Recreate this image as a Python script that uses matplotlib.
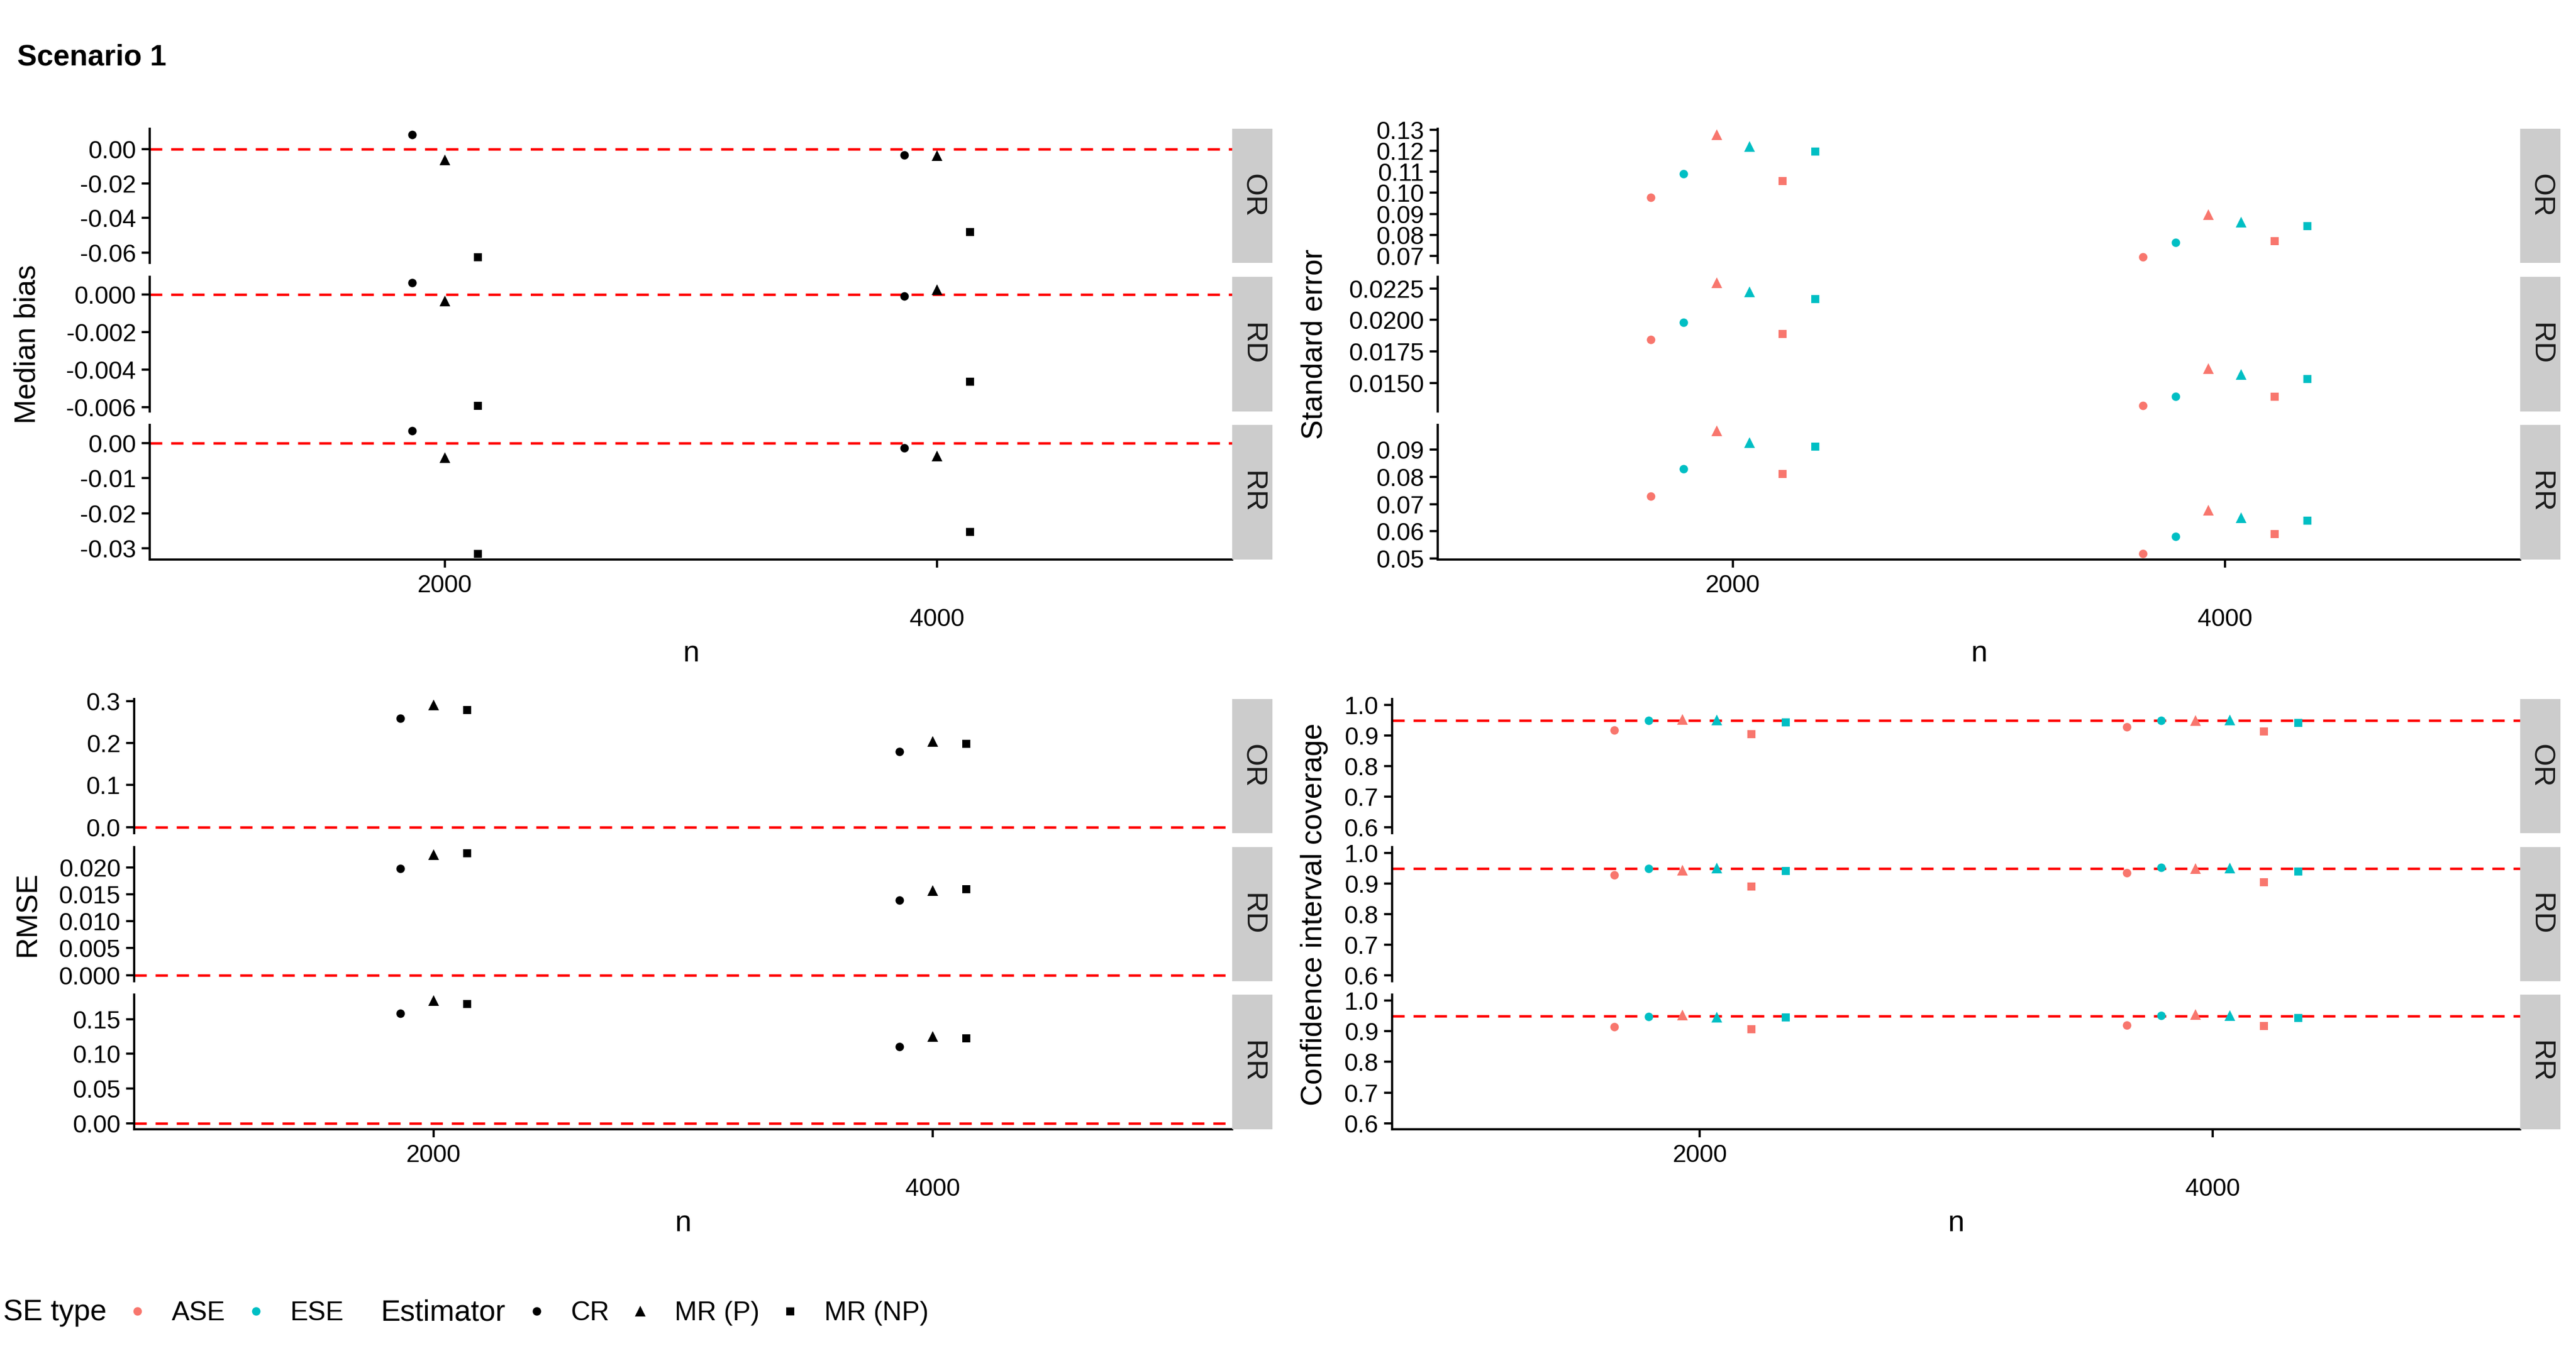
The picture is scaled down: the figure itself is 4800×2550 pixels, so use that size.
import matplotlib
matplotlib.use('Agg')
import matplotlib.pyplot as plt
from matplotlib.lines import Line2D
from matplotlib.ticker import FixedLocator, FixedFormatter

plt.rcParams['font.family'] = ['Liberation Sans', 'DejaVu Sans']

W, H, DPI = 4800, 2550, 300

# ---- data ------------------------------------------------------------------
n_values = [2000, 4000]
estimators = ['CR', 'MR (P)', 'MR (NP)']
se_types = ['ASE', 'ESE']
measures = ['OR', 'RD', 'RR']

# median bias: one [n=2000, n=4000] pair per estimator
bias_OR = [[0.0083, -0.0034], [-0.0062, -0.0036], [-0.0625, -0.0479]]
bias_RD = [[0.00063, -0.00008], [-0.00033, 0.00027], [-0.0059, -0.00463]]
bias_RR = [[0.0035, -0.0013], [-0.0041, -0.0037], [-0.0315, -0.0252]]

# standard error, ASE and ESE
se_OR_ase = [[0.0978, 0.0697], [0.1275, 0.0896], [0.1056, 0.0773]]
se_OR_ese = [[0.1090, 0.0764], [0.1219, 0.0861], [0.1196, 0.0843]]
se_RD_ase = [[0.01845, 0.01323], [0.02294, 0.01613], [0.0189, 0.01392]]
se_RD_ese = [[0.0198, 0.01394], [0.02223, 0.01567], [0.02169, 0.01532]]
se_RR_ase = [[0.0729, 0.0519], [0.0968, 0.0677], [0.0811, 0.0591]]
se_RR_ese = [[0.0829, 0.0581], [0.0925, 0.0651], [0.0911, 0.0641]]

# RMSE
rmse_OR = [[0.258, 0.180], [0.290, 0.204], [0.279, 0.199]]
rmse_RD = [[0.0198, 0.0139], [0.0223, 0.0157], [0.0226, 0.0160]]
rmse_RR = [[0.1586, 0.1104], [0.1766, 0.125], [0.172, 0.1225]]

# CI coverage
cov_OR_ase = [[0.918, 0.928], [0.954, 0.950], [0.905, 0.914]]
cov_OR_ese = [[0.950, 0.950], [0.951, 0.952], [0.945, 0.942]]
cov_RD_ase = [[0.929, 0.936], [0.945, 0.949], [0.891, 0.905]]
cov_RD_ese = [[0.950, 0.953], [0.952, 0.951], [0.943, 0.940]]
cov_RR_ase = [[0.914, 0.920], [0.953, 0.955], [0.907, 0.919]]
cov_RR_ese = [[0.948, 0.952], [0.947, 0.951], [0.946, 0.944]]

# y ticks per facet
bias_ticks = {'OR': ([0.00, -0.02, -0.04, -0.06], ['0.00', '-0.02', '-0.04', '-0.06']),
              'RD': ([0.000, -0.002, -0.004, -0.006], ['0.000', '-0.002', '-0.004', '-0.006']),
              'RR': ([0.00, -0.01, -0.02, -0.03], ['0.00', '-0.01', '-0.02', '-0.03'])}
se_ticks = {'OR': ([0.07, 0.08, 0.09, 0.10, 0.11, 0.12, 0.13],
                   ['0.07', '0.08', '0.09', '0.10', '0.11', '0.12', '0.13']),
            'RD': ([0.0150, 0.0175, 0.0200, 0.0225], ['0.0150', '0.0175', '0.0200', '0.0225']),
            'RR': ([0.05, 0.06, 0.07, 0.08, 0.09], ['0.05', '0.06', '0.07', '0.08', '0.09'])}
rmse_ticks = {'OR': ([0.0, 0.1, 0.2, 0.3], ['0.0', '0.1', '0.2', '0.3']),
              'RD': ([0.000, 0.005, 0.010, 0.015, 0.020],
                     ['0.000', '0.005', '0.010', '0.015', '0.020']),
              'RR': ([0.00, 0.05, 0.10, 0.15], ['0.00', '0.05', '0.10', '0.15'])}
cov_tick_vals = [0.6, 0.7, 0.8, 0.9, 1.0]
cov_tick_labs = ['0.6', '0.7', '0.8', '0.9', '1.0']
cov_limits = (0.6, 1.0)

SE_COLORS = {'ASE': '#F8766D', 'ESE': '#00BFC4'}
EST_MARKERS = {'CR': ('o', 3.8), 'MR (P)': ('^', 4.6), 'MR (NP)': ('s', 3.6)}
X_LIMITS = (800, 5200)


def add_box(fig, x0, y0, x1, y1):
    return fig.add_axes([x0 / W, 1 - y1 / H, (x1 - x0) / W, (y1 - y0) / H])


def expand(lo, hi, mult=0.05):
    d = (hi - lo) * mult
    return lo - d, hi + d


def draw_group(fig, box, strip_x, rows, series_by_measure, ticks_by_measure,
               hline=None, coloured=False, fixed_limits=None, ylabel=''):
    x0, x1 = box
    for k, m in enumerate(measures):
        y0, y1 = rows[k]
        ax = add_box(fig, x0, y0, x1, y1)
        allv = []
        if coloured:
            ase, ese = series_by_measure[m]
            dodge = 800 / 6
            g = 0
            for i, est in enumerate(estimators):
                for se_name, arr in (('ASE', ase), ('ESE', ese)):
                    off = (g - 2.5) * dodge
                    mk, ms = EST_MARKERS[est]
                    ax.plot([n + off for n in n_values], arr[i], linestyle='none',
                            marker=mk, ms=ms, color=SE_COLORS[se_name], mec='none')
                    allv += arr[i]
                    g += 1
        else:
            vals = series_by_measure[m]
            dodge = 400 / 3
            for i, est in enumerate(estimators):
                off = (i - 1) * dodge
                mk, ms = EST_MARKERS[est]
                ax.plot([n + off for n in n_values], vals[i], linestyle='none',
                        marker=mk, ms=ms, color='black', mec='none')
                allv += vals[i]
        if hline is not None:
            ax.axhline(hline, color='red', lw=1.1, linestyle=(0, (5, 3.6)), zorder=0)
            allv.append(hline)
        if fixed_limits is not None:
            ax.set_ylim(*expand(*fixed_limits))
        else:
            ax.set_ylim(*expand(min(allv), max(allv)))
        ax.set_xlim(*X_LIMITS)
        tv, tl = ticks_by_measure[m]
        ax.yaxis.set_major_locator(FixedLocator(tv))
        ax.yaxis.set_major_formatter(FixedFormatter(tl))
        ax.spines['top'].set_visible(False)
        ax.spines['right'].set_visible(False)
        ax.spines['left'].set_linewidth(1.0)
        ax.tick_params(axis='y', length=3.6, width=1.0, labelsize=11, pad=2.5,
                       colors='black')
        if k == len(measures) - 1:
            ax.spines['bottom'].set_linewidth(1.0)
            ax.set_xticks([n_values[0]])
            ax.set_xticklabels([str(n_values[0])])
            ax.set_xticks([n_values[1]], minor=True)
            ax.set_xticklabels([str(n_values[1])], minor=True)
            ax.tick_params(axis='x', which='major', length=3.6, width=1.0,
                           labelsize=11, pad=3)
            ax.tick_params(axis='x', which='minor', length=3.6, width=1.0,
                           labelsize=11, pad=18)
        else:
            ax.spines['bottom'].set_visible(False)
            ax.set_xticks([])
        # facet strip
        sx = add_box(fig, strip_x[0], y0, strip_x[1], y1)
        sx.set_facecolor('#CCCCCC')
        for s in sx.spines.values():
            s.set_visible(False)
        sx.set_xticks([])
        sx.set_yticks([])
        sx.text(0.5, 0.5, m, rotation=-90, ha='center', va='center',
                fontsize=13, color='#1A1A1A', transform=sx.transAxes)
    # axis titles
    yc = (rows[0][0] + rows[-1][1]) / 2
    fig.text(ylabel[1] / W, 1 - yc / H, ylabel[0], rotation=90, ha='center',
             va='center', fontsize=13.2)
    fig.text((x0 + x1) / 2 / W, 1 - (rows[-1][1] + 190) / H, 'n', ha='center',
             va='baseline', fontsize=13.2)


fig = plt.figure(figsize=(W / DPI, H / DPI), dpi=DPI)

top_rows = [(240, 490), (516, 767), (792, 1043)]
bot_rows = [(1303, 1553), (1579, 1829), (1854, 2105)]
left_strip = (2296, 2371)
right_strip = (4696, 4771)

draw_group(fig, (279, 2296), left_strip, top_rows,
           {'OR': bias_OR, 'RD': bias_RD, 'RR': bias_RR}, bias_ticks,
           hline=0.0, ylabel=('Median bias', 52))
draw_group(fig, (2679, 4696), right_strip, top_rows,
           {'OR': (se_OR_ase, se_OR_ese), 'RD': (se_RD_ase, se_RD_ese),
            'RR': (se_RR_ase, se_RR_ese)}, se_ticks,
           coloured=True, ylabel=('Standard error', 2449))
draw_group(fig, (250, 2296), left_strip, bot_rows,
           {'OR': rmse_OR, 'RD': rmse_RD, 'RR': rmse_RR}, rmse_ticks,
           hline=0.0, ylabel=('RMSE', 52))
cov_t = {m: (cov_tick_vals, cov_tick_labs) for m in measures}
draw_group(fig, (2594, 4696), right_strip, bot_rows,
           {'OR': (cov_OR_ase, cov_OR_ese), 'RD': (cov_RD_ase, cov_RD_ese),
            'RR': (cov_RR_ase, cov_RR_ese)}, cov_t,
           hline=0.95, coloured=True, fixed_limits=cov_limits,
           ylabel=('Confidence interval coverage', 2449))

fig.text(32 / W, 1 - 107 / H, 'Scenario 1', fontsize=13.2, fontweight='bold',
         ha='left', va='center')

# legends (bottom, two groups side by side)
blank = Line2D([], [], linestyle='none', marker=None)
se_handles = [blank] + [Line2D([], [], linestyle='none', marker='o', ms=3.8,
                               color=SE_COLORS[s], mec='none') for s in se_types]
est_handles = [blank] + [Line2D([], [], linestyle='none', marker=EST_MARKERS[e][0],
                                ms=EST_MARKERS[e][1], color='black', mec='none')
                         for e in estimators]
leg_kw = dict(loc='center left', frameon=False, fontsize=12, handlelength=1.0,
              handletextpad=0.78, columnspacing=0.64, borderpad=0, borderaxespad=0,
              numpoints=1)
yl = 1 - 2447 / H
leg1 = fig.legend(se_handles, ['SE type'] + se_types, ncol=3,
                  bbox_to_anchor=(-83 / W, yl), **leg_kw)
leg1.get_texts()[0].set_fontsize(13.2)
leg2 = fig.legend(est_handles, ['Estimator'] + estimators, ncol=4,
                  bbox_to_anchor=(621 / W, yl), **leg_kw)
leg2.get_texts()[0].set_fontsize(13.2)

fig.savefig('out.png', dpi=DPI)
